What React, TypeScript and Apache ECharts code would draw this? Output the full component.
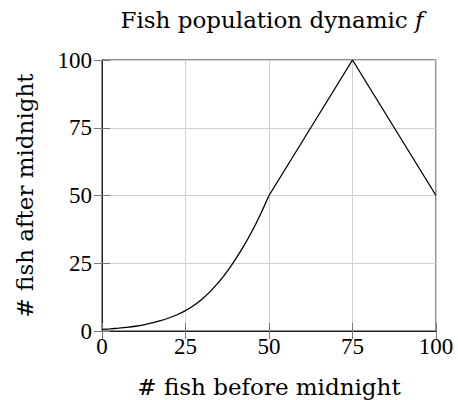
import React, { useEffect, useRef } from "react";
import * as echarts from "echarts";

const curveX = [0, 2.5, 5, 7.5, 10, 12.5, 15, 17.5, 20, 22.5, 25, 27.5, 30, 32.5, 35, 37.5, 40, 42.5, 45, 47.5, 50];
const curveY = [0.6, 0.8, 1.05, 1.35, 1.75, 2.3, 3.0, 3.8, 4.8, 6.0, 7.5, 9.4, 11.8, 14.7, 18.1, 22.0, 26.5, 31.5, 37.0, 43.2, 50];
const lineX = [50, 75, 100];
const lineY = [50, 100, 50];
const xTicks = [0, 25, 50, 75, 100];
const yTicks = [0, 25, 50, 75, 100];
const titleText = "Fish population dynamic ";
const titleItalic = "f";
const xName = "# fish before midnight";
const yName = "# fish after midnight";

const TEXT_FONT = "'DejaVu Serif', serif";
const NUM_FONT = "'Liberation Serif', serif";

export default function App() {
  const ref = useRef<HTMLDivElement>(null);
  useEffect(() => {
    if (!ref.current) return;
    const chart = echarts.init(ref.current, null, { renderer: "svg" });
    const step = xTicks[1] - xTicks[0];
    const ystep = yTicks[1] - yTicks[0];
    const tickStyle = { show: true, inside: true, length: 8, lineStyle: { color: "#777", width: 1 } };
    chart.setOption({
      animation: false,
      backgroundColor: "#fff",
      title: {
        text: `{a|${titleText}}{b|${titleItalic}}`,
        left: 267,
        top: 3,
        textAlign: "center",
        textStyle: {
          fontWeight: "normal",
          rich: {
            a: { fontFamily: TEXT_FONT, fontSize: 23, fontWeight: "normal", color: "#000" },
            b: { fontFamily: TEXT_FONT, fontSize: 23, fontWeight: "normal", fontStyle: "italic", color: "#000" },
          },
        },
      },
      grid: {
        left: 102,
        right: 22,
        top: 60,
        bottom: 69,
        containLabel: false,
        outerBoundsMode: "none",
        show: true,
        borderColor: "#222",
        borderWidth: 1,
      },
      xAxis: [
        {
          type: "value",
          min: xTicks[0],
          max: xTicks[xTicks.length - 1],
          interval: step,
          position: "bottom",
          name: xName,
          nameLocation: "middle",
          nameGap: 44,
          nameTextStyle: { fontFamily: TEXT_FONT, fontSize: 23, color: "#000" },
          axisLine: { show: true, lineStyle: { color: "#222", width: 1 } },
          axisTick: tickStyle,
          axisLabel: { fontFamily: NUM_FONT, fontSize: 23, color: "#000", margin: 4 },
          splitLine: { show: true, lineStyle: { color: "#cfcfcf", width: 1 } },
        },
        {
          type: "value",
          min: xTicks[0],
          max: xTicks[xTicks.length - 1],
          interval: step,
          position: "top",
          axisLine: { show: true, lineStyle: { color: "#222", width: 1 } },
          axisTick: tickStyle,
          axisLabel: { show: false },
          splitLine: { show: false },
        },
      ],
      yAxis: [
        {
          type: "value",
          min: yTicks[0],
          max: yTicks[yTicks.length - 1],
          interval: ystep,
          position: "left",
          name: yName,
          nameLocation: "middle",
          nameGap: 66,
          nameRotate: 90,
          nameTextStyle: { fontFamily: TEXT_FONT, fontSize: 23, color: "#000" },
          axisLine: { show: true, lineStyle: { color: "#222", width: 1 } },
          axisTick: tickStyle,
          axisLabel: { fontFamily: NUM_FONT, fontSize: 23, color: "#000", margin: 10 },
          splitLine: { show: true, lineStyle: { color: "#cfcfcf", width: 1 } },
        },
        {
          type: "value",
          min: yTicks[0],
          max: yTicks[yTicks.length - 1],
          interval: ystep,
          position: "right",
          axisLine: { show: true, lineStyle: { color: "#222", width: 1 } },
          axisTick: tickStyle,
          axisLabel: { show: false },
          splitLine: { show: false },
        },
      ],
      series: [
        {
          type: "line",
          data: curveX.map((x, i) => [x, curveY[i]]),
          smooth: 0.25,
          showSymbol: false,
          lineStyle: { color: "#000", width: 1.3 },
          z: 5,
        },
        {
          type: "line",
          data: lineX.map((x, i) => [x, lineY[i]]),
          showSymbol: false,
          lineStyle: { color: "#000", width: 1.3 },
          z: 5,
        },
      ],
    });
    return () => chart.dispose();
  }, []);
  return <div ref={ref} style={{ width: 458, height: 400, position: "absolute", left: 0, top: 0 }} />;
}
